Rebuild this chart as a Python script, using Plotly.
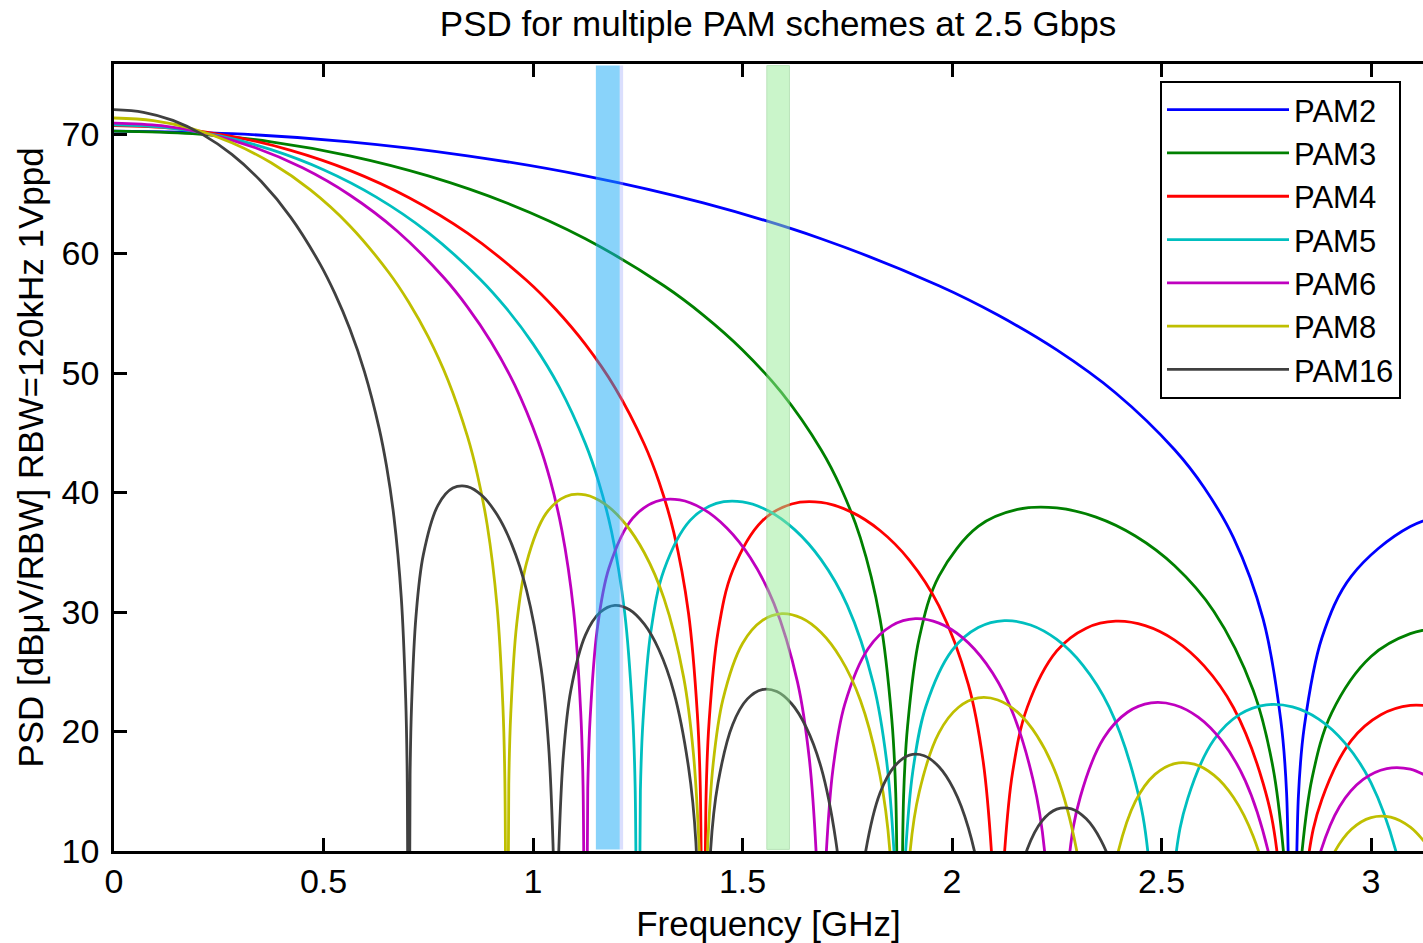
import plotly.graph_objects as go

# ---------------- data ----------------
# Frequency [GHz] and PSD [dBuV/RBW]; -20 marks a spectral null (off-scale)
f_pam2 = [0, 0.28125, 0.5625, 0.84375, 1.125, 1.40625, 1.6875, 1.96875, 2.10938, 2.25,
          2.39063, 2.53125, 2.60156, 2.67188, 2.74219, 2.78438, 2.79844, 2.8125, 2.82656,
          2.84063, 2.88281, 2.95313, 3.09375, 3.23438]
psd_pam2 = [70.25, 70.03, 69.35, 68.18, 66.50, 64.23, 61.24, 57.30, 54.85, 51.93,
            48.33, 43.58, 40.42, 36.20, 29.44, 21.02, 14.85, -20, 14.53,
            20.39, 27.85, 33.01, 37.16, 38.58]

f_pam3 = [0, 0.1875, 0.375, 0.5625, 0.75, 0.9375, 1.125, 1.3125, 1.40625, 1.5,
          1.59375, 1.6875, 1.73438, 1.78125, 1.82813, 1.85625, 1.86563, 1.875, 1.88438,
          1.89375, 1.92188, 1.96875, 2.0625, 2.15625, 2.25, 2.34375, 2.4375, 2.53125,
          2.625, 2.71875, 2.76563, 2.79375, 2.80313, 2.8125, 2.82188, 2.83125, 2.85938,
          2.90625, 3.0, 3.09375, 3.1875]
psd_pam3 = [70.25, 70.03, 69.35, 68.18, 66.50, 64.23, 61.24, 57.30, 54.85, 51.93,
            48.33, 43.58, 40.42, 36.20, 29.44, 21.02, 14.85, -20, 14.53,
            20.39, 27.85, 33.01, 37.16, 38.58, 38.71, 37.94, 36.36, 33.87,
            30.05, 23.46, 17.06, 8.85, 2.74, -20, 2.55, 8.47, 16.12,
            21.58, 26.28, 28.19, 28.77]

f_pam4 = [0, 0.14063, 0.28125, 0.42188, 0.5625, 0.70313, 0.84375, 0.98438, 1.05469, 1.125,
          1.19531, 1.26563, 1.30078, 1.33594, 1.37109, 1.39219, 1.39922, 1.40625, 1.41328,
          1.42031, 1.44141, 1.47656, 1.54688, 1.61719, 1.6875, 1.75781, 1.82813, 1.89844,
          1.96875, 2.03906, 2.07422, 2.09531, 2.10234, 2.10938, 2.11641, 2.12344, 2.14453,
          2.17969, 2.25, 2.32031, 2.39063, 2.46094, 2.53125, 2.60156, 2.67188, 2.74219,
          2.77734, 2.8125, 2.84766, 2.88281, 2.95313, 3.02344, 3.09375, 3.16406]
psd_pam4 = [70.71, 70.49, 69.81, 68.64, 66.96, 64.69, 61.70, 57.76, 55.31, 52.39,
            48.79, 44.04, 40.88, 36.66, 29.90, 21.48, 15.31, -20, 14.99,
            20.85, 28.31, 33.47, 37.62, 39.04, 39.17, 38.40, 36.82, 34.33,
            30.51, 23.92, 17.52, 9.31, 3.20, -20, 3.01, 8.93, 16.58,
            22.04, 26.74, 28.65, 29.23, 28.86, 27.65, 25.49, 21.99, 15.69,
            9.43, -20, 8.75, 14.33, 19.26, 21.40, 22.18, 22.01]

f_pam5 = [0, 0.125, 0.25, 0.375, 0.5, 0.625, 0.75, 0.875, 0.9375, 1.0,
          1.0625, 1.125, 1.15625, 1.1875, 1.21875, 1.2375, 1.24375, 1.25, 1.25625,
          1.2625, 1.28125, 1.3125, 1.375, 1.4375, 1.5, 1.5625, 1.625, 1.6875,
          1.75, 1.8125, 1.84375, 1.8625, 1.86875, 1.875, 1.88125, 1.8875, 1.90625,
          1.9375, 2.0, 2.0625, 2.125, 2.1875, 2.25, 2.3125, 2.375, 2.4375,
          2.46875, 2.5, 2.53125, 2.5625, 2.625, 2.6875, 2.75, 2.8125, 2.875,
          2.9375, 3.0, 3.0625, 3.09375, 3.125]
psd_pam5 = [70.76, 70.54, 69.86, 68.69, 67.01, 64.74, 61.75, 57.81, 55.36, 52.44,
            48.84, 44.09, 40.93, 36.71, 29.95, 21.53, 15.36, -20, 15.04,
            20.90, 28.36, 33.52, 37.67, 39.09, 39.22, 38.45, 36.87, 34.38,
            30.56, 23.97, 17.57, 9.36, 3.25, -20, 3.06, 8.98, 16.63,
            22.09, 26.79, 28.70, 29.28, 28.91, 27.70, 25.54, 22.04, 15.74,
            9.48, -20, 8.80, 14.38, 19.31, 21.45, 22.23, 22.06, 21.04,
            19.05, 15.71, 9.57, 3.39, -20]

f_pam6 = [0, 0.1125, 0.225, 0.3375, 0.45, 0.5625, 0.675, 0.7875, 0.84375, 0.9,
          0.95625, 1.0125, 1.04063, 1.06875, 1.09688, 1.11375, 1.11938, 1.125, 1.13063,
          1.13625, 1.15313, 1.18125, 1.2375, 1.29375, 1.35, 1.40625, 1.4625, 1.51875,
          1.575, 1.63125, 1.65938, 1.67625, 1.68188, 1.6875, 1.69313, 1.69875, 1.71563,
          1.74375, 1.8, 1.85625, 1.9125, 1.96875, 2.025, 2.08125, 2.1375, 2.19375,
          2.22188, 2.25, 2.27813, 2.30625, 2.3625, 2.41875, 2.475, 2.53125, 2.5875,
          2.64375, 2.7, 2.75625, 2.78438, 2.8125, 2.84063, 2.86875, 2.925, 2.98125,
          3.0375, 3.09375, 3.15]
psd_pam6 = [70.92, 70.70, 70.02, 68.85, 67.17, 64.90, 61.91, 57.97, 55.52, 52.60,
            49.00, 44.25, 41.09, 36.87, 30.11, 21.69, 15.52, -20, 15.20,
            21.06, 28.52, 33.68, 37.83, 39.25, 39.38, 38.61, 37.03, 34.54,
            30.72, 24.13, 17.73, 9.52, 3.41, -20, 3.22, 9.14, 16.79,
            22.25, 26.95, 28.86, 29.44, 29.07, 27.86, 25.70, 22.20, 15.90,
            9.64, -20, 8.96, 14.54, 19.47, 21.61, 22.39, 22.22, 21.20,
            19.21, 15.87, 9.73, 3.55, -20, 3.02, 8.66, 13.73, 15.99,
            16.90, 16.85, 15.93]

f_pam8 = [0, 0.09375, 0.1875, 0.28125, 0.375, 0.46875, 0.5625, 0.65625, 0.70313, 0.75,
          0.79688, 0.84375, 0.86719, 0.89063, 0.91406, 0.92813, 0.93281, 0.9375, 0.94219,
          0.94688, 0.96094, 0.98438, 1.03125, 1.07813, 1.125, 1.17188, 1.21875, 1.26563,
          1.3125, 1.35938, 1.38281, 1.39688, 1.40156, 1.40625, 1.41094, 1.41563, 1.42969,
          1.45313, 1.5, 1.54688, 1.59375, 1.64063, 1.6875, 1.73438, 1.78125, 1.82813,
          1.85156, 1.875, 1.89844, 1.92188, 1.96875, 2.01563, 2.0625, 2.10938, 2.15625,
          2.20313, 2.25, 2.29688, 2.32031, 2.34375, 2.36719, 2.39063, 2.4375, 2.48438,
          2.53125, 2.57813, 2.625, 2.67188, 2.71875, 2.76563, 2.8125, 2.85938, 2.90625,
          2.95313, 3.0, 3.04688, 3.09375, 3.14063]
psd_pam8 = [71.34, 71.12, 70.44, 69.27, 67.59, 65.32, 62.33, 58.39, 55.94, 53.02,
            49.42, 44.67, 41.51, 37.29, 30.53, 22.11, 15.94, -20, 15.62,
            21.48, 28.94, 34.10, 38.25, 39.67, 39.80, 39.03, 37.45, 34.96,
            31.14, 24.55, 18.15, 9.94, 3.83, -20, 3.64, 9.56, 17.21,
            22.67, 27.37, 29.28, 29.86, 29.49, 28.28, 26.12, 22.62, 16.32,
            10.06, -20, 9.38, 14.96, 19.89, 22.03, 22.81, 22.64, 21.62,
            19.63, 16.29, 10.15, 3.97, -20, 3.44, 9.08, 14.15, 16.41,
            17.32, 17.27, 16.35, 14.48, 11.23, 5.20, -20, 4.31, 9.46,
            11.82, 12.80, 12.83, 11.99, 10.19]

f_pam16 = [0, 0.07031, 0.14063, 0.21094, 0.28125, 0.35156, 0.42188, 0.49219, 0.52734, 0.5625,
           0.59766, 0.63281, 0.65039, 0.66797, 0.68555, 0.69609, 0.69961, 0.70313, 0.70664,
           0.71016, 0.72070, 0.73828, 0.77344, 0.80859, 0.84375, 0.87891, 0.91406, 0.94922,
           0.98438, 1.01953, 1.03711, 1.04766, 1.05117, 1.05469, 1.05820, 1.06172, 1.07227,
           1.08984, 1.125, 1.16016, 1.19531, 1.23047, 1.26563, 1.30078, 1.33594, 1.37109,
           1.38867, 1.40625, 1.42383, 1.44141, 1.47656, 1.51172, 1.54688, 1.58203, 1.61719,
           1.65234, 1.6875, 1.72266, 1.74023, 1.75781, 1.77539, 1.79297, 1.82813, 1.86328,
           1.89844, 1.93359, 1.96875, 2.00391, 2.03906, 2.07422, 2.10938, 2.14453, 2.17969,
           2.21484, 2.25, 2.28516, 2.32031, 2.35547, 2.39063, 2.42578, 2.46094, 2.63672,
           2.8125, 2.98828, 3.16406]
psd_pam16 = [72.04, 71.82, 71.14, 69.97, 68.29, 66.02, 63.03, 59.09, 56.64, 53.72,
             50.12, 45.37, 42.21, 37.99, 31.23, 22.81, 16.64, -20, 16.32,
             22.18, 29.64, 34.80, 38.95, 40.37, 40.50, 39.73, 38.15, 35.66,
             31.84, 25.25, 18.85, 10.64, 4.53, -20, 4.34, 10.26, 17.91,
             23.37, 28.07, 29.98, 30.56, 30.19, 28.98, 26.82, 23.32, 17.02,
             10.76, -20, 10.08, 15.66, 20.59, 22.73, 23.51, 23.34, 22.32,
             20.33, 16.99, 10.85, 4.67, -20, 4.14, 9.78, 14.85, 17.11,
             18.02, 17.97, 17.05, 15.18, 11.93, 5.90, -20, 5.01, 10.16,
             12.52, 13.50, 13.53, 12.69, 10.89, 7.72, 1.75, -20, 9.75,
             -20, 6.45, -20]

series_names = ["PAM2", "PAM3", "PAM4", "PAM5", "PAM6", "PAM8", "PAM16"]
series_f = [f_pam2, f_pam3, f_pam4, f_pam5, f_pam6, f_pam8, f_pam16]
series_psd = [psd_pam2, psd_pam3, psd_pam4, psd_pam5, psd_pam6, psd_pam8, psd_pam16]
series_colors = ["#0000FF", "#008000", "#FF0000", "#00BFBF", "#BF00BF", "#BFBF00", "#404040"]

# highlighted frequency bands [GHz]
band_blue = [1.15, 1.207]
band_blue_edge = [1.207, 1.215]
band_green = [1.558, 1.612]

x_ticks = [0, 0.5, 1, 1.5, 2, 2.5, 3]
x_ticklabels = ["0", "0.5", "1", "1.5", "2", "2.5", "3"]
y_ticks = [10, 20, 30, 40, 50, 60, 70]

FONT = "Liberation Sans, Arial, Helvetica, sans-serif"

fig = go.Figure()
for name, fx, py, col in zip(series_names, series_f, series_psd, series_colors):
    fig.add_trace(go.Scatter(
        x=fx, y=py, name=name, mode="lines",
        line=dict(color=col, width=2.8, shape="spline", smoothing=1.0),
    ))

fig.add_shape(type="rect", xref="x", yref="paper", x0=band_blue[0], x1=band_blue[1],
              y0=0.002, y1=0.998, fillcolor="rgb(20,168,246)", opacity=0.5,
              line=dict(width=0), layer="above")
fig.add_shape(type="rect", xref="x", yref="paper", x0=band_blue_edge[0], x1=band_blue_edge[1],
              y0=0.002, y1=0.998, fillcolor="rgb(150,160,250)", opacity=0.35,
              line=dict(width=0), layer="above")
fig.add_shape(type="rect", xref="x", yref="paper", x0=band_green[0], x1=band_green[1],
              y0=0.002, y1=0.998, fillcolor="rgb(150,236,150)", opacity=0.5,
              line=dict(color="rgb(120,200,120)", width=1), layer="above")

fig.update_layout(
    width=1423, height=943,
    margin=dict(l=114, r=0, t=64, b=92, autoexpand=False),
    paper_bgcolor="white", plot_bgcolor="white",
    font=dict(family=FONT, color="black", size=34),
    title=dict(text="PSD for multiple PAM schemes at 2.5 Gbps",
               x=778 / 1423, xref="container", xanchor="center",
               y=1 - 24 / 943, yref="container", yanchor="middle",
               font=dict(family=FONT, size=35, color="black")),
    showlegend=True,
    legend=dict(x=(1160 - 114) / 1309, y=(851 - 81) / 787, xanchor="left", yanchor="top",
                bgcolor="white", bordercolor="black", borderwidth=2,
                font=dict(family=FONT, size=31, color="black"),
                itemwidth=122),
    xaxis=dict(range=[0, 3.124], tickvals=x_ticks, ticktext=x_ticklabels,
               ticks="inside", ticklen=13, tickwidth=2.5, tickcolor="black",
               showline=True, linewidth=2.5, linecolor="black", mirror="ticks",
               showgrid=False, zeroline=False, ticklabelstandoff=-2,
               tickfont=dict(family=FONT, size=34),
               title=dict(text="Frequency [GHz]", font=dict(family=FONT, size=35), standoff=20)),
    yaxis=dict(range=[10, 75.86], tickvals=y_ticks,
               ticks="inside", ticklen=13, tickwidth=2.5, tickcolor="black",
               showline=True, linewidth=2.5, linecolor="black", mirror=False,
               showgrid=False, zeroline=False, ticklabelstandoff=5,
               tickfont=dict(family=FONT, size=34),
               title=dict(text="PSD [dBμV/RBW] RBW=120kHz 1Vppd",
                          font=dict(family=FONT, size=35), standoff=8)),
)

fig.write_html("out.html",
               config={"displayModeBar": False},
               post_script="document.body.style.margin='0';document.body.style.overflow='hidden';")
